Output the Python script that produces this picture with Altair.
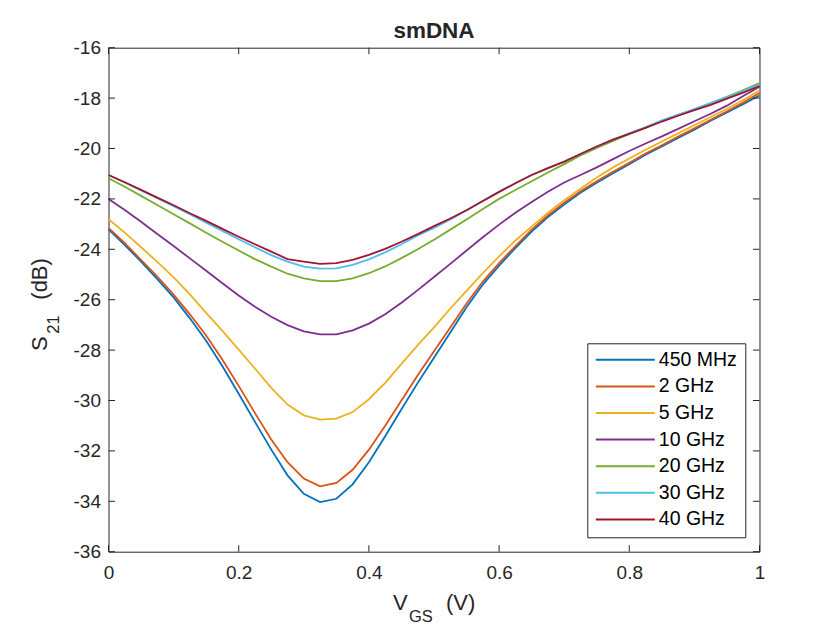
import altair as alt
import pandas as pd

# ---------------- data ----------------
vgs = [0.0, 0.025, 0.05, 0.075, 0.1, 0.125, 0.15, 0.175, 0.2, 0.225, 0.25, 0.275,
       0.3, 0.325, 0.35, 0.375, 0.4, 0.425, 0.45, 0.475, 0.5, 0.525, 0.55, 0.575,
       0.6, 0.625, 0.65, 0.675, 0.7, 0.725, 0.75, 0.775, 0.8, 0.825, 0.85, 0.875,
       0.9, 0.925, 0.95, 0.975, 1.0]

s21_450MHz = [-23.21, -23.83, -24.49, -25.18, -25.91, -26.74, -27.63, -28.64, -29.73, -30.85,
              -31.95, -32.97, -33.70, -34.03, -33.90, -33.33, -32.45, -31.42, -30.35, -29.30,
              -28.30, -27.30, -26.30, -25.40, -24.65, -23.95, -23.30, -22.72, -22.22, -21.76,
              -21.36, -20.98, -20.62, -20.25, -19.92, -19.58, -19.25, -18.90, -18.57, -18.24, -17.90]
s21_2GHz = [-23.15, -23.76, -24.42, -25.08, -25.80, -26.58, -27.42, -28.38, -29.42, -30.50,
            -31.55, -32.45, -33.10, -33.41, -33.27, -32.75, -31.95, -31.00, -30.00, -29.00,
            -28.05, -27.10, -26.15, -25.28, -24.55, -23.87, -23.22, -22.65, -22.15, -21.70,
            -21.30, -20.92, -20.57, -20.20, -19.87, -19.53, -19.20, -18.86, -18.52, -18.18, -17.80]
s21_5GHz = [-22.81, -23.34, -23.92, -24.50, -25.11, -25.79, -26.52, -27.24, -27.98, -28.73,
            -29.50, -30.16, -30.59, -30.76, -30.72, -30.46, -29.95, -29.30, -28.55, -27.80,
            -27.10, -26.35, -25.65, -24.95, -24.28, -23.65, -23.10, -22.55, -22.05, -21.60,
            -21.15, -20.75, -20.40, -20.05, -19.72, -19.40, -19.08, -18.75, -18.42, -18.08, -17.70]
s21_10GHz = [-22.00, -22.44, -22.91, -23.39, -23.87, -24.36, -24.85, -25.35, -25.83, -26.28,
             -26.68, -27.01, -27.26, -27.38, -27.38, -27.22, -26.95, -26.58, -26.12, -25.62,
             -25.10, -24.58, -24.05, -23.52, -23.02, -22.55, -22.12, -21.72, -21.35, -21.05,
             -20.75, -20.42, -20.10, -19.80, -19.52, -19.22, -18.92, -18.62, -18.30, -17.92, -17.55]
s21_20GHz = [-21.18, -21.52, -21.88, -22.24, -22.61, -22.97, -23.34, -23.70, -24.05, -24.39,
             -24.69, -24.97, -25.15, -25.26, -25.26, -25.15, -24.95, -24.68, -24.35, -24.00,
             -23.62, -23.22, -22.82, -22.40, -22.00, -21.65, -21.30, -20.95, -20.62, -20.28,
             -19.98, -19.70, -19.42, -19.17, -18.92, -18.68, -18.45, -18.20, -17.95, -17.68, -17.40]
s21_30GHz = [-21.05, -21.35, -21.66, -21.97, -22.29, -22.61, -22.94, -23.27, -23.60, -23.92,
             -24.23, -24.49, -24.69, -24.77, -24.76, -24.62, -24.40, -24.12, -23.80, -23.45,
             -23.15, -22.82, -22.45, -22.08, -21.72, -21.38, -21.05, -20.78, -20.52, -20.22,
             -19.92, -19.65, -19.40, -19.15, -18.88, -18.65, -18.44, -18.20, -17.96, -17.72, -17.45]
s21_40GHz = [-21.05, -21.34, -21.64, -21.95, -22.25, -22.57, -22.87, -23.19, -23.50, -23.80,
             -24.09, -24.39, -24.49, -24.58, -24.55, -24.42, -24.22, -23.98, -23.70, -23.40,
             -23.08, -22.78, -22.45, -22.08, -21.72, -21.38, -21.05, -20.78, -20.52, -20.22,
             -19.92, -19.65, -19.42, -19.18, -18.93, -18.70, -18.48, -18.27, -18.02, -17.78, -17.52]

series_names = ["450 MHz", "2 GHz", "5 GHz", "10 GHz", "20 GHz", "30 GHz", "40 GHz"]
series_values = [s21_450MHz, s21_2GHz, s21_5GHz, s21_10GHz, s21_20GHz, s21_30GHz, s21_40GHz]
series_colors = ["#0072BD", "#D95319", "#EDB120", "#7E2F8E", "#77AC30", "#4DBEEE", "#A2142F"]

x_ticks = [0, 0.2, 0.4, 0.6, 0.8, 1]
y_ticks = [-36, -34, -32, -30, -28, -26, -24, -22, -20, -18, -16]

chart_title = "smDNA"

# ---------------- build ----------------
rows = []
for name, vals in zip(series_names, series_values):
    for xv, yv in zip(vgs, vals):
        rows.append({"vgs": xv, "s21": yv, "freq": name})
df = pd.DataFrame(rows)

FONT = "Liberation Sans"
TXT = "#262626"
W, H = 651, 504
TICK = 6.5

x_scale = alt.Scale(domain=[0, 1], nice=False, zero=False)
y_scale = alt.Scale(domain=[-36, -16], nice=False, zero=False)

x_axis = alt.Axis(values=x_ticks, labelExpr="'' + datum.value", ticks=False, tickSize=0,
                  domain=False, grid=False, labelPadding=12, labelFontSize=19,
                  labelFont=FONT, labelColor=TXT, labelFlush=False, title=None)
y_axis = alt.Axis(values=y_ticks, labelExpr="'' + datum.value", ticks=False, tickSize=0,
                  domain=False, grid=False, labelPadding=8, labelFontSize=19,
                  labelFont=FONT, labelColor=TXT, labelFlush=False, title=None)

legend = alt.Legend(title=None, orient="none", legendX=478.8, legendY=295.6,
                    symbolType="stroke", symbolSize=3481, symbolStrokeWidth=2,
                    labelFontSize=19.5, labelFont=FONT, labelColor="black",
                    clipHeight=18, rowPadding=6.6, padding=7.5, labelOffset=3,
                    strokeColor=TXT, fillColor="white", labelLimit=300)

lines = alt.Chart(df).mark_line(strokeWidth=1.8).encode(
    x=alt.X("vgs:Q", scale=x_scale, axis=x_axis),
    y=alt.Y("s21:Q", scale=y_scale, axis=y_axis),
    color=alt.Color("freq:N", scale=alt.Scale(domain=series_names, range=series_colors),
                    legend=legend, sort=series_names),
)

ty = pd.DataFrame({"t": y_ticks})
tx = pd.DataFrame({"t": x_ticks})

left_ticks = alt.Chart(ty).mark_rule(color=TXT, strokeWidth=1).encode(
    y=alt.Y("t:Q", scale=y_scale, axis=y_axis), x=alt.value(0), x2=alt.value(TICK))
right_ticks = alt.Chart(ty).mark_rule(color=TXT, strokeWidth=1).encode(
    y=alt.Y("t:Q", scale=y_scale, axis=y_axis), x=alt.value(W - TICK), x2=alt.value(W))
bottom_ticks = alt.Chart(tx).mark_rule(color=TXT, strokeWidth=1).encode(
    x=alt.X("t:Q", scale=x_scale, axis=x_axis), y=alt.value(H), y2=alt.value(H - TICK))
top_ticks = alt.Chart(tx).mark_rule(color=TXT, strokeWidth=1).encode(
    x=alt.X("t:Q", scale=x_scale, axis=x_axis), y=alt.value(0), y2=alt.value(TICK))

one = pd.DataFrame({"a": [0]})


def txt(s, x, y, size, angle=0, weight="normal", align="left"):
    kw = dict(text=s, font=FONT, fontSize=size, color=TXT, align=align,
              baseline="alphabetic", fontWeight=weight)
    if angle:
        kw["angle"] = angle
    return alt.Chart(one).mark_text(**kw).encode(x=alt.value(x), y=alt.value(y))


title_t = txt(chart_title, W / 2, -9.4, 22.5, weight="bold", align="center")
# x-axis title V_GS (V)
xt1 = txt("V", 284.5, 562.5, 22)
xt2 = txt("GS", 300.5, 574.5, 16.5)
xt3 = txt("(V)", 337.5, 562.5, 22)
# y-axis title S_21 (dB)
yt1 = txt("S", -61.8, 303.3, 22, angle=270)
yt2 = txt("21", -50.0, 286.0, 16.5, angle=270)
yt3 = txt("(dB)", -61.8, 252.0, 22, angle=270)

chart = alt.layer(
    lines, left_ticks, right_ticks, bottom_ticks, top_ticks,
    title_t, xt1, xt2, xt3, yt1, yt2, yt3,
).properties(
    width=W, height=H,
    autosize=alt.AutoSizeParams(type="none"),
    padding={"left": 100.5, "top": 39.7, "right": 40, "bottom": 76},
    background="white",
).configure_view(stroke=TXT, strokeWidth=1)

chart.save("out.html", embed_options={"renderer": "svg", "actions": False})
